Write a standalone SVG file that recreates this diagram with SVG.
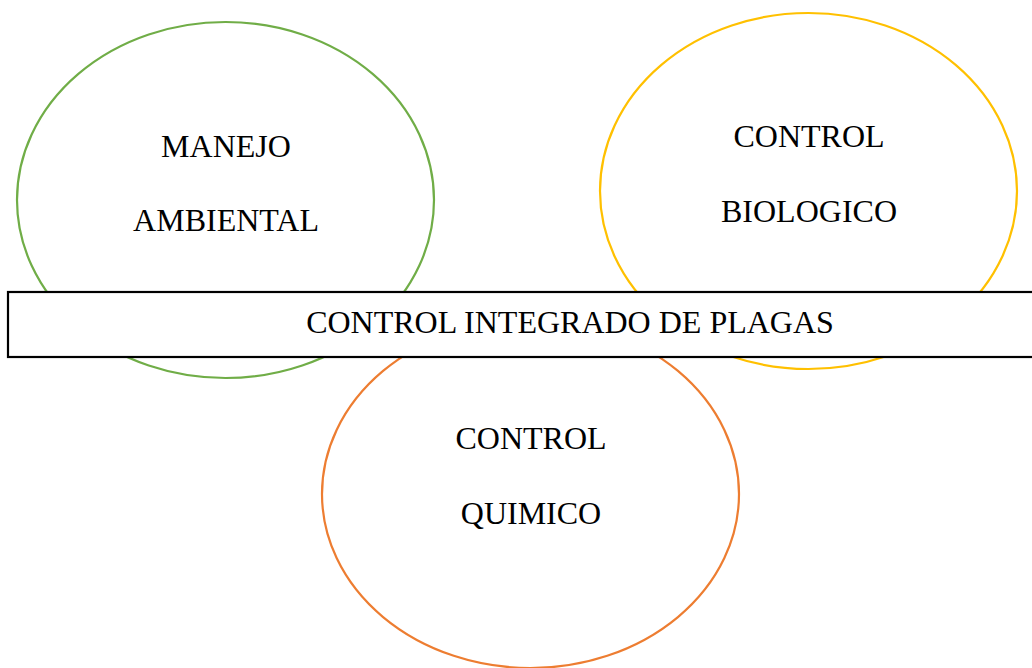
<svg xmlns="http://www.w3.org/2000/svg" width="1032" height="668" viewBox="0 0 1032 668">
<style>
.t{font-family:"Liberation Serif","Times New Roman",serif;font-size:32px;fill:#000;text-anchor:middle}
.e{fill:#fff;stroke-width:2.2}
</style>
<rect width="1032" height="668" fill="#fff"/>
<g id="manejo">
<ellipse class="e" cx="225.5" cy="200" rx="208.5" ry="178" stroke="#70ad47"/>
<text class="t" x="226" y="157">MANEJO</text>
<text class="t" x="226" y="231">AMBIENTAL</text>
</g>
<g id="biologico">
<ellipse class="e" cx="808.5" cy="191" rx="208.5" ry="178" stroke="#ffc000"/>
<text class="t" x="809" y="147">CONTROL</text>
<text class="t" x="809" y="222">BIOLOGICO</text>
</g>
<g id="quimico">
<ellipse class="e" cx="530.5" cy="494" rx="208.5" ry="174" stroke="#ed7d31"/>
<text class="t" x="531" y="449">CONTROL</text>
<text class="t" x="531" y="524">QUIMICO</text>
</g>
<g id="cip">
<rect x="8" y="292" width="1030" height="65" fill="#fff" stroke="#000" stroke-width="2.2"/>
<text class="t" x="570" y="333">CONTROL INTEGRADO DE PLAGAS</text>
</g>
<g id="connectors"/>
</svg>
